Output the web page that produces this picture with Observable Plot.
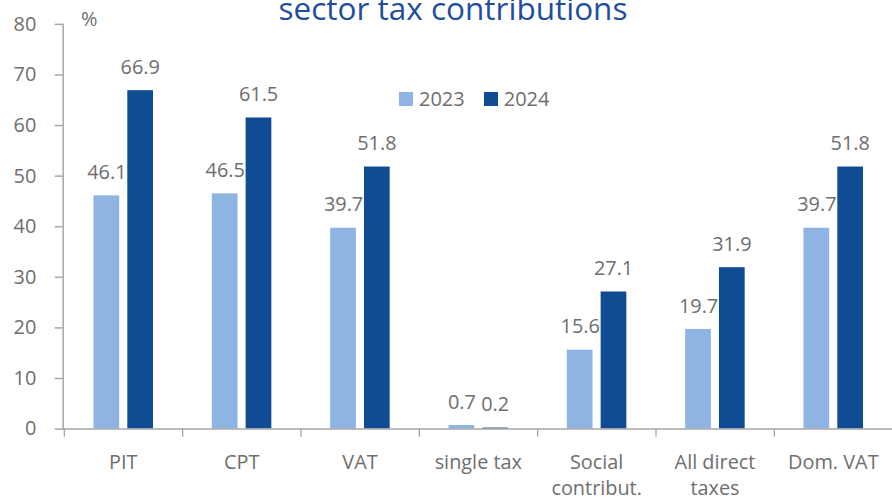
<!DOCTYPE html>
<html><head><meta charset="utf-8">
<script src="https://cdn.jsdelivr.net/npm/d3@7"></script>
<script src="https://cdn.jsdelivr.net/npm/@observablehq/plot@0.6"></script>
<style>
html,body{margin:0;padding:0;background:#fff;overflow:hidden;width:892px;height:499px}
#wrap{position:relative;width:892px;height:499px;overflow:hidden;font-family:"Open Sans",sans-serif}
#chart svg{display:block;overflow:hidden}
#title{position:absolute;top:-8px;left:453px;transform:translateX(-50%);white-space:nowrap;font-size:31.5px;line-height:1;color:#1f4e9b}
#legend{position:absolute;left:399px;top:85px;display:flex;align-items:center;font-size:20px;color:#6e6e6e;line-height:28px}
.sw{display:inline-block;width:14px;height:14px;margin-right:6px}
.item{display:flex;align-items:center;margin-right:19px}
</style></head>
<body><div id="wrap"><div id="chart"></div><div id="title">sector tax contributions</div><div id="legend"></div></div>
<script>
const categories = ["PIT","CPT","VAT","single tax","Social\ncontribut.","All direct\ntaxes","Dom. VAT"];
const values2023 = [46.1, 46.5, 39.7, 0.7, 15.6, 19.7, 39.7];
const values2024 = [66.9, 61.5, 51.8, 0.2, 27.1, 31.9, 51.8];
const years = ["2023","2024"];
const colors = ["#8db4e3","#0f4c93"];
const yTicks = [0,10,20,30,40,50,60,70,80];

const textGray = "#6e6e6e";
const lineGray = "#a6a6a6";
const W = 897, ML = 63, MR = 0;
const bw = (W - ML - MR) / categories.length;

const d23 = categories.map((c,i)=>({cat:c, v:values2023[i]}));
const d24 = categories.map((c,i)=>({cat:c, v:values2024[i]}));

const chart = Plot.plot({
  width: W, height: 499,
  marginLeft: ML, marginRight: MR, marginTop: 24, marginBottom: 68,
  style: {fontFamily: '"Open Sans", sans-serif', fontSize: "20px", background: "#fff", overflow: "hidden"},
  x: {domain: categories, padding: 0, axis: null},
  y: {domain: [0,80], axis: null},
  marks: [
    Plot.barY(d23, {x:"cat", y:"v", fill: colors[0], insetLeft: 30, insetRight: bw-56}),
    Plot.barY(d24, {x:"cat", y:"v", fill: colors[1], insetLeft: 64, insetRight: bw-90}),
    Plot.text(d23, {x:"cat", y:"v", text: d=>d.v.toFixed(1), dx: -16.5, dy: -17, lineAnchor:"bottom", fill: textGray, fontSize: 20}),
    Plot.text(d24, {x:"cat", y:"v", text: d=>d.v.toFixed(1), dx: 17, dy: -17, lineAnchor:"bottom", fill: textGray, fontSize: 20}),
    Plot.ruleY([0], {stroke: lineGray, strokeWidth: 1.5}),
    Plot.frame({anchor: "left", stroke: lineGray, strokeWidth: 1.5}),
    Plot.barY(categories, {x: d=>d, y1: 0, y2: -1.6, insetRight: bw-1.5, fill: lineGray}),
    Plot.axisY({ticks: yTicks, tickSize: 8, tickPadding: 19, fontSize: 20, fill: textGray, stroke: lineGray, strokeWidth: 1.5, label: null}),
    Plot.text(categories, {x: d=>d, frameAnchor: "bottom", lineAnchor: "top", dy: 21, lineHeight: 1.33, fontSize: 20, fill: textGray}),
    Plot.text(["%"], {frameAnchor: "top-left", dx: 18, dy: -13, fontSize: 20, fill: textGray})
  ]
});
document.getElementById("chart").appendChild(chart);

const leg = document.getElementById("legend");
years.forEach((y,i)=>{
  const it = document.createElement("span"); it.className="item";
  const sw = document.createElement("span"); sw.className="sw"; sw.style.background=colors[i];
  it.appendChild(sw); it.appendChild(document.createTextNode(y));
  leg.appendChild(it);
});
</script>
</body></html>
